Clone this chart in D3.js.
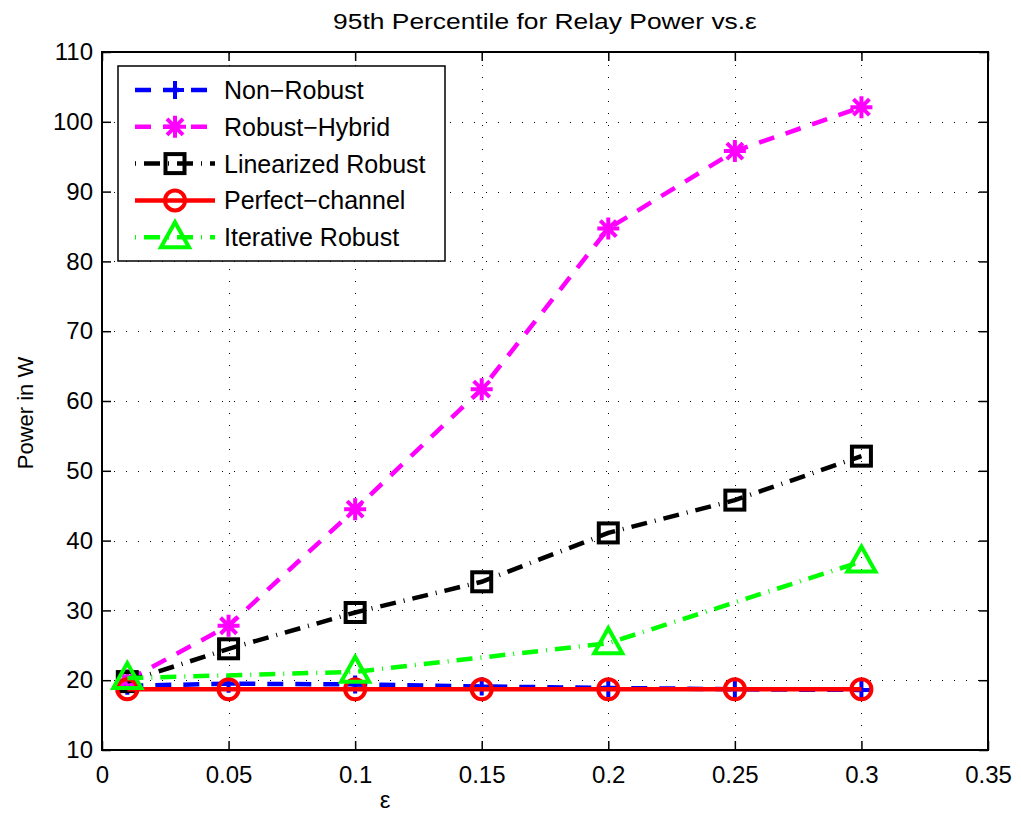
<!DOCTYPE html>
<html>
<head>
<meta charset="utf-8">
<script src="https://cdn.jsdelivr.net/npm/d3@7"></script>
<style>
    body { margin: 0; background: #fff; }
    text { font-family: "Liberation Sans", Arial, sans-serif; fill: #000; }
</style>
</head>
<body>
<div id="main"></div>
<script>
const epsValues = [0.01, 0.05, 0.1, 0.15, 0.2, 0.25, 0.3];
const epsIterative = [0.01, 0.1, 0.2, 0.3];

const nonRobust = [19.2, 19.5, 19.4, 19.1, 18.9, 18.7, 18.6];
const robustHybrid = [20.0, 27.8, 44.5, 61.7, 84.7, 95.8, 102.1];
const linearizedRobust = [19.8, 24.5, 29.7, 34.1, 41.1, 45.8, 52.1];
const perfectChannel = [18.7, 18.7, 18.7, 18.7, 18.7, 18.7, 18.7];
const iterativeRobust = [20.3, 21.2, 25.3, 37.0];

const xTicks = [0, 0.05, 0.1, 0.15, 0.2, 0.25, 0.3, 0.35];
const yTicks = [10, 20, 30, 40, 50, 60, 70, 80, 90, 100, 110];

const seriesNames = ["Non\u2212Robust", "Robust\u2212Hybrid", "Linearized Robust", "Perfect\u2212channel", "Iterative Robust"];

class RelayChart {
    constructor(config) {
        this.config = config;
        this.svg = null;
        this.xScale = null;
        this.yScale = null;
        this.createSvg();
        this.createScales();
    }

    createSvg() {
        this.svg = d3.select(this.config.div)
            .append("svg")
            .attr("width", this.config.width)
            .attr("height", this.config.height);
    }

    createScales() {
        this.xScale = d3.scaleLinear().domain([0, 0.35]).range([this.config.left, this.config.right]);
        this.yScale = d3.scaleLinear().domain([10, 110]).range([this.config.bottom, this.config.top]);
    }

    createGrid() {
        const g = this.svg.append("g")
            .attr("stroke", "#000")
            .attr("stroke-width", 1)
            .attr("stroke-dasharray", "1,11");
        g.selectAll(".vgrid")
            .data(xTicks.slice(1, -1))
            .join("line")
            .attr("x1", d => Math.round(this.xScale(d)) + 0.5)
            .attr("x2", d => Math.round(this.xScale(d)) + 0.5)
            .attr("y1", this.config.bottom)
            .attr("y2", this.config.top);
        g.selectAll(".hgrid")
            .data(yTicks.slice(1, -1))
            .join("line")
            .attr("y1", d => Math.round(this.yScale(d)) + 0.5)
            .attr("y2", d => Math.round(this.yScale(d)) + 0.5)
            .attr("x1", this.config.left)
            .attr("x2", this.config.right);
    }

    createAxis() {
        const c = this.config;
        const fmt = d => d === 0 ? "0" : String(d);

        const xAxis = d3.axisBottom(this.xScale).tickValues(xTicks).tickFormat(fmt)
            .tickSizeInner(-9).tickSizeOuter(0).tickPadding(16);
        const yAxis = d3.axisLeft(this.yScale).tickValues(yTicks)
            .tickSizeInner(-9).tickSizeOuter(0).tickPadding(9);
        const xTop = d3.axisTop(this.xScale).tickValues(xTicks).tickFormat("")
            .tickSizeInner(-9).tickSizeOuter(0);
        const yRight = d3.axisRight(this.yScale).tickValues(yTicks).tickFormat("")
            .tickSizeInner(-9).tickSizeOuter(0);

        const style = g => {
            g.select(".domain").remove();
            g.selectAll("line").attr("stroke", "#000").attr("stroke-width", 1.5);
            g.selectAll("text").style("font-size", "24px").attr("fill", "#000");
        };

        this.svg.append("g").attr("transform", `translate(0,${c.bottom})`).call(xAxis).call(style);
        this.svg.append("g").attr("transform", `translate(${c.left},0)`).call(yAxis).call(style);
        this.svg.append("g").attr("transform", `translate(0,${c.top})`).call(xTop).call(style);
        this.svg.append("g").attr("transform", `translate(${c.right},0)`).call(yRight).call(style);

        this.svg.append("rect")
            .attr("x", c.left).attr("y", c.top)
            .attr("width", c.right - c.left).attr("height", c.bottom - c.top)
            .attr("fill", "none").attr("stroke", "#000").attr("stroke-width", 2);
    }

    drawMarker(g, type, color) {
        if (type === "plus") {
            g.append("path").attr("d", "M-9,0H9M0,-9V9")
                .attr("stroke", color).attr("stroke-width", 4).attr("fill", "none");
        } else if (type === "star") {
            g.append("path").attr("d", "M-11,0H11M0,-11V11M-8,-8L8,8M-8,8L8,-8")
                .attr("stroke", color).attr("stroke-width", 4).attr("fill", "none");
        } else if (type === "square") {
            g.append("rect").attr("x", -9.5).attr("y", -9.5).attr("width", 19).attr("height", 19)
                .attr("stroke", color).attr("stroke-width", 4).attr("fill", "none");
        } else if (type === "circle") {
            g.append("circle").attr("r", 10)
                .attr("stroke", color).attr("stroke-width", 4).attr("fill", "none");
        } else if (type === "triangle") {
            g.append("path").attr("d", "M0,-15L14,10H-14Z")
                .attr("stroke", color).attr("stroke-width", 4).attr("fill", "none")
                .attr("stroke-linejoin", "miter");
        }
    }

    linesRender(series) {
        const line = d3.line().x(d => this.xScale(d[0])).y(d => this.yScale(d[1]));
        series.forEach(s => {
            const pts = s.x.map((x, i) => [x, s.y[i]]);
            this.svg.append("path")
                .datum(pts)
                .attr("d", line)
                .attr("fill", "none")
                .attr("stroke", s.color)
                .attr("stroke-width", 4.5)
                .attr("stroke-dasharray", s.dash);
            pts.forEach(p => {
                const g = this.svg.append("g")
                    .attr("transform", `translate(${this.xScale(p[0])},${this.yScale(p[1])})`);
                this.drawMarker(g, s.marker, s.color);
            });
        });
    }

    legendRender(series) {
        const lg = this.svg.append("g").attr("transform", "translate(118,66)");
        lg.append("rect").attr("x", 0).attr("y", 0).attr("width", 327).attr("height", 195)
            .attr("fill", "#fff").attr("stroke", "#000").attr("stroke-width", 1.5);
        series.forEach((s, i) => {
            const y = 24 + i * 36.8;
            lg.append("line")
                .attr("x1", 17).attr("x2", 97).attr("y1", y).attr("y2", y)
                .attr("stroke", s.color).attr("stroke-width", 4.5)
                .attr("stroke-dasharray", s.legendDash);
            const g = lg.append("g").attr("transform", `translate(57,${y})`);
            this.drawMarker(g, s.marker, s.color);
            lg.append("text")
                .attr("x", 106).attr("y", y).attr("dy", "0.36em")
                .style("font-size", "25px")
                .text(s.name);
        });
    }

    labelsRender() {
        const c = this.config;
        // title glyphs in the original are wider than the font, stretch horizontally
        this.svg.append("text")
            .attr("transform", "translate(545,29) scale(1.2,1)")
            .attr("text-anchor", "middle")
            .style("font-size", "22px")
            .text("95th Percentile for Relay Power vs.\u03b5");
        this.svg.append("text")
            .attr("x", 385).attr("y", 808)
            .attr("text-anchor", "middle")
            .style("font-size", "24px")
            .text("\u03b5");
        this.svg.append("text")
            .attr("transform", "translate(33,413) rotate(-90)")
            .attr("text-anchor", "middle")
            .style("font-size", "22px")
            .text("Power in W");
    }
}

function main() {
    const config = {div: "#main", width: 1021, height: 820, left: 102, right: 988, top: 52, bottom: 750};
    const app = new RelayChart(config);

    const series = [
        {name: seriesNames[0], x: epsValues, y: nonRobust, color: "#0000ff", marker: "plus", dash: "16,12", legendDash: "16,12"},
        {name: seriesNames[1], x: epsValues, y: robustHybrid, color: "#ff00ff", marker: "star", dash: "16,12", legendDash: "16,12"},
        {name: seriesNames[2], x: epsValues, y: linearizedRobust, color: "#000000", marker: "square", dash: "16,8,1,8", legendDash: "1,8,16,8"},
        {name: seriesNames[3], x: epsValues, y: perfectChannel, color: "#ff0000", marker: "circle", dash: null, legendDash: null},
        {name: seriesNames[4], x: epsIterative, y: iterativeRobust, color: "#00ff00", marker: "triangle", dash: "16,8,1,8", legendDash: "1,8,16,8"}
    ];

    app.createGrid();
    app.createAxis();
    app.linesRender(series);
    app.legendRender(series);
    app.labelsRender();
}

main();
</script>
</body>
</html>
